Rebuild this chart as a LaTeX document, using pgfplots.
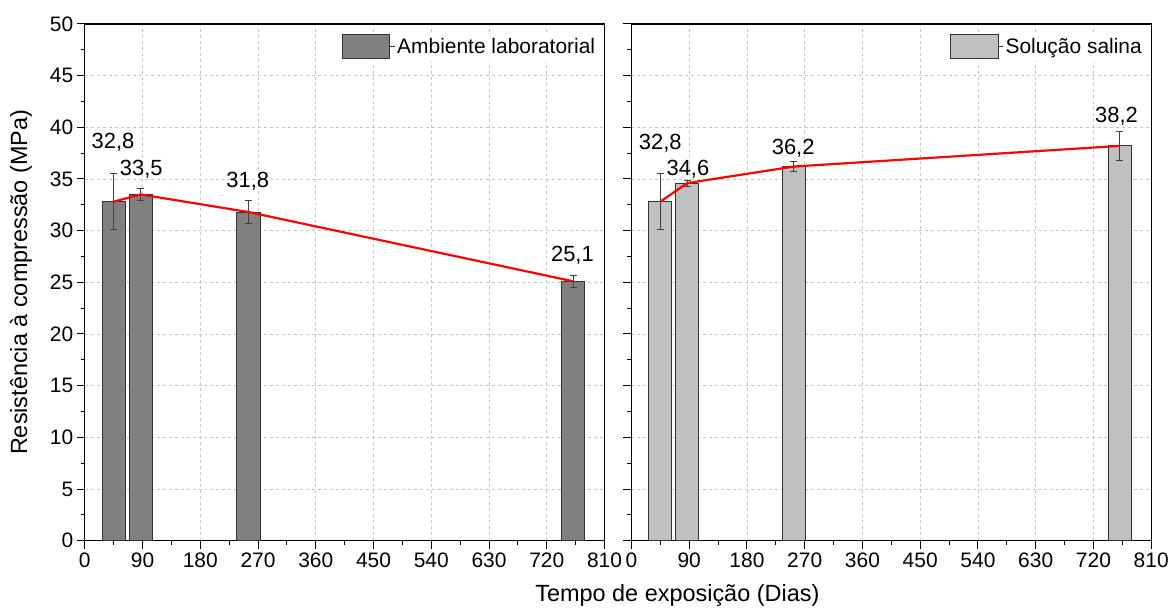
\documentclass[border=0pt]{standalone}
\usepackage{fontspec}
\setmainfont{Liberation Sans}
\usepackage{pgfplots}
\pgfplotsset{compat=1.18}
\definecolor{bardark}{RGB}{128,128,128}
\definecolor{barlight}{RGB}{192,192,192}
\tikzset{vlab/.style={font=\fontsize{22}{24}\selectfont}}
\pgfplotsset{
  myax/.style={
    scale only axis, width=521pt, height=518pt,
    xmin=0, xmax=810, ymin=0, ymax=50,
    xtick={0,90,...,810}, ytick={0,5,...,50},
    minor x tick num=1, minor y tick num=1,
    xtick pos=lower, ytick pos=left,
    tick align=outside,
    major tick length=8pt, minor tick length=4pt,
    tick style={line width=1pt, black},
    axis line style={line width=1.2pt},
    grid=major,
    grid style={dash pattern=on 3pt off 3pt, gray!45, line width=0.8pt},
    /pgf/number format/assume math mode=true,
    /pgf/number format/1000 sep={},
    tick label style={font=\fontsize{21}{23}\selectfont},
    xticklabel style={yshift=-1pt},
    legend style={draw=none, fill=white, font=\fontsize{21}{23}\selectfont, at={(0.99,0.985)}, anchor=north east, inner sep=2pt},
    legend image code/.code={\draw[##1, draw=black!80, line width=0.8pt] (0pt,-12pt) rectangle (48pt,12pt); \path (48pt,0pt) -- (53pt,0pt);},
  },
  errs/.style={error bars/.cd, y dir=both, y explicit,
    error bar style={line width=0.9pt, black!75},
    error mark options={rotate=90, mark size=3.5pt, line width=0.9pt, black!75}},
}
\begin{document}
\begin{tikzpicture}
\path (0pt,0pt) rectangle (1172pt,607pt);
\begin{axis}[myax, at={(85pt,65pt)}, anchor=south west]
\addplot[ybar, bar width=36, fill=bardark, draw=black!80, line width=0.8pt, errs]
  coordinates {(45,32.8) +- (0,2.7) (87,33.5) +- (0,0.6) (255,31.8) +- (0,1.1) (761,25.1) +- (0,0.6)};
\addlegendentry{Ambiente laboratorial}
\addplot[red, line width=2.2pt, mark=none, forget plot]
  coordinates {(45,32.8) (87,33.5) (255,31.8) (761,25.1)};
\node[vlab] at (axis cs:44,38.6) {32,8};
\node[vlab] at (axis cs:88,35.9) {33,5};
\node[vlab] at (axis cs:254,34.8) {31,8};
\node[vlab] at (axis cs:760,27.6) {25,1};
\end{axis}
\begin{axis}[myax, at={(633pt,65pt)}, anchor=south west, yticklabels={}]
\addplot[ybar, bar width=36, fill=barlight, draw=black!80, line width=0.8pt, errs]
  coordinates {(45,32.8) +- (0,2.7) (87,34.6) +- (0,0.3) (253,36.2) +- (0,0.5) (761,38.2) +- (0,1.4)};
\addlegendentry{Solução salina}
\addplot[red, line width=2.2pt, mark=none, forget plot]
  coordinates {(45,32.8) (87,34.6) (253,36.2) (761,38.2)};
\node[vlab] at (axis cs:45,38.5) {32,8};
\node[vlab] at (axis cs:88,35.9) {34,6};
\node[vlab] at (axis cs:252,38.0) {36,2};
\node[vlab] at (axis cs:756,41.1) {38,2};
\end{axis}
\node[font=\fontsize{23.5}{26}\selectfont] at (679pt,10pt) {Tempo de exposição (Dias)};
\node[font=\fontsize{23.5}{26}\selectfont, rotate=90] at (21pt,324pt) {Resistência à compressão (MPa)};
\end{tikzpicture}
\end{document}
